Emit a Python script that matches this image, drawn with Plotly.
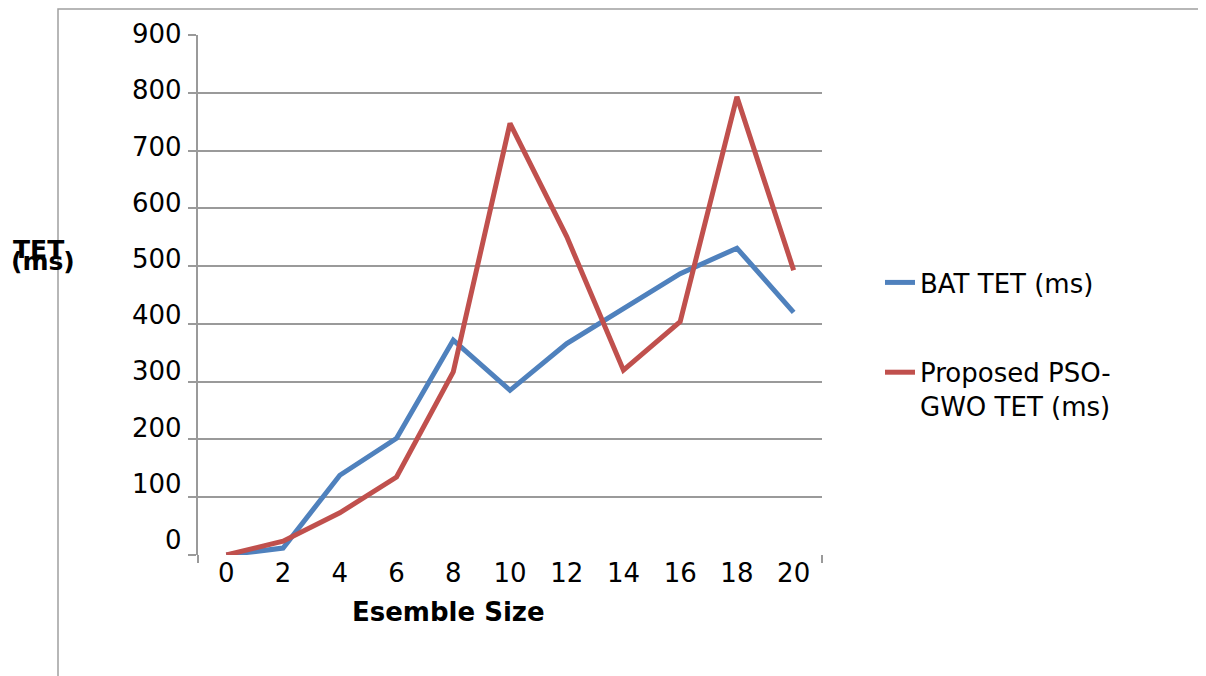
import plotly.graph_objects as go

ensemble_size = ["0", "2", "4", "6", "8", "10", "12", "14", "16", "18", "20"]
bat_tet = [0, 12, 138, 202, 372, 285, 366, 427, 487, 531, 420]
pso_gwo_tet = [0, 24, 73, 135, 317, 747, 551, 320, 404, 793, 493]
y_ticks = [0, 100, 200, 300, 400, 500, 600, 700, 800, 900]

OFF = 8  # page body offset
W, H = 1206 - OFF, 676 - OFF
# screen-space plot box
SL, SR, ST, SB = 198, 822, 35, 555
L, T = SL - OFF, ST - OFF
R = W - (SR - OFF)
B = H - (SB - OFF)
pw, ph = W - L - R, H - T - B

def px(xs):
    return (xs - SL) / pw

def py(ys):
    return (SB - ys) / ph

FONT = "DejaVu Sans"
GRID = "#9a9a9a"

fig = go.Figure()
fig.add_trace(go.Scatter(x=ensemble_size, y=bat_tet, mode="lines", name="BAT TET (ms)",
                         line=dict(color="#4F81BD", width=5), legendgroup="a"))
fig.add_trace(go.Scatter(x=ensemble_size, y=pso_gwo_tet, mode="lines",
                         name="Proposed PSO-<br>GWO TET (ms)",
                         line=dict(color="#C0504D", width=5), legendgroup="b"))

shapes = [
    # outer frame
    dict(type="rect", xref="paper", yref="paper", x0=px(58), x1=px(1400), y0=py(760), y1=py(9),
         line=dict(color="#a0a0a0", width=1.5), layer="below"),
    # axis end ticks
    dict(type="line", xref="paper", yref="paper", x0=0, x1=0, y0=py(555), y1=py(563),
         line=dict(color=GRID, width=2)),
    dict(type="line", xref="paper", yref="paper", x0=1, x1=1, y0=py(555), y1=py(563),
         line=dict(color=GRID, width=2)),
]

annotations = [
    dict(text="<b>TET</b>", xref="paper", yref="paper", x=px(38), y=py(249), showarrow=False,
         font=dict(family=FONT, size=25, color="black"), xanchor="center", yanchor="middle"),
    dict(text="<b>(ms)</b>", xref="paper", yref="paper", x=px(43), y=py(261), showarrow=False,
         font=dict(family=FONT, size=25, color="black"), xanchor="center", yanchor="middle"),
    dict(text="<b>Esemble Size</b>", xref="paper", yref="paper", x=px(448), y=py(612),
         showarrow=False, font=dict(family=FONT, size=26, color="black"),
         xanchor="center", yanchor="middle"),
]
# y tick labels (slightly compressed spacing as in the reference)
for i, v in enumerate(y_ticks):
    annotations.append(dict(text=str(v), xref="paper", yref="paper", x=px(184),
                            y=py(540 - i * 56.2), showarrow=False,
                            font=dict(family=FONT, size=26, color="black"),
                            xanchor="right", yanchor="middle"))

fig.update_layout(
    width=W, height=H,
    margin=dict(l=L, r=R, t=T, b=B),
    paper_bgcolor="white", plot_bgcolor="white",
    font=dict(family=FONT, size=26, color="black"),
    shapes=shapes, annotations=annotations,
    showlegend=True,
    legend=dict(x=px(880), y=py(259), xanchor="left", yanchor="top",
                font=dict(family=FONT, size=26, color="black"),
                traceorder="grouped", tracegroupgap=53, valign="top",
                bgcolor="rgba(0,0,0,0)"),
    xaxis=dict(type="category", range=[-0.5, 10.5], showgrid=False, showline=False, ticks="",
               tickfont=dict(family=FONT, size=26)),
    yaxis=dict(range=[0, 900], tickvals=y_ticks, showgrid=True, gridcolor=GRID, gridwidth=2,
               showline=True, linecolor=GRID, linewidth=2, ticks="outside", ticklen=8,
               tickcolor=GRID, tickwidth=2, showticklabels=False,
               zeroline=False),
)

fig.write_html("out.html")
